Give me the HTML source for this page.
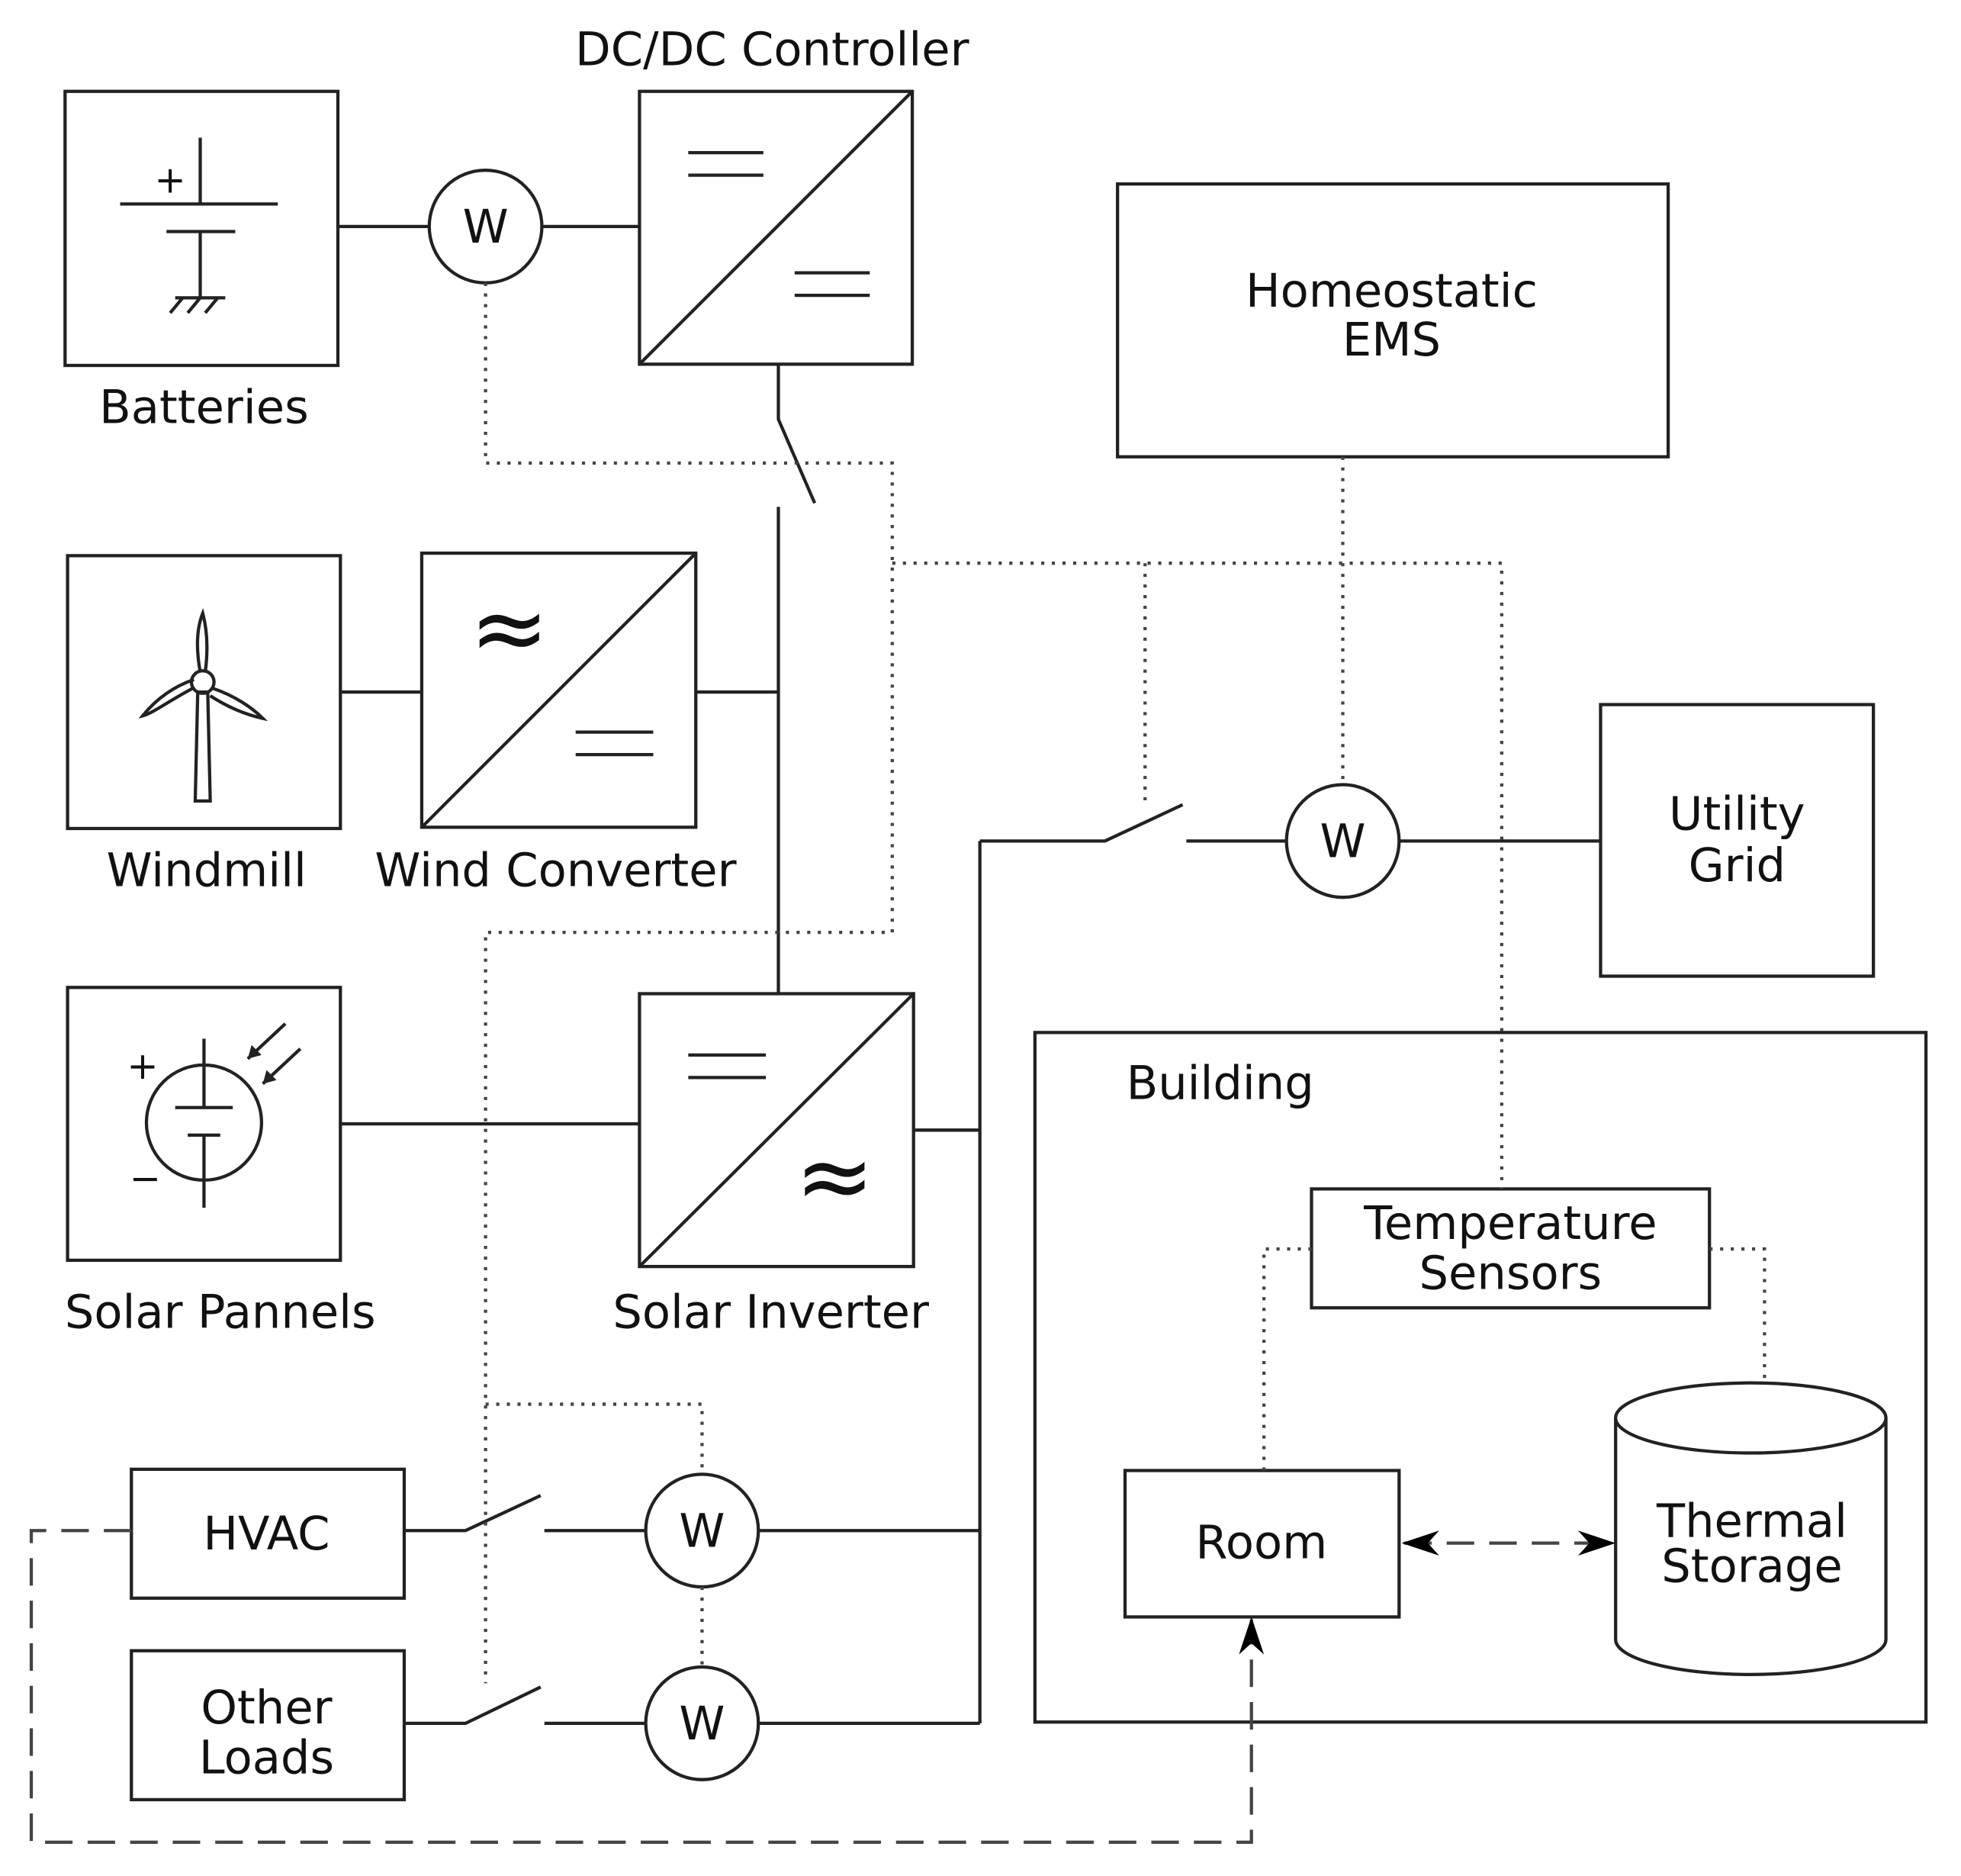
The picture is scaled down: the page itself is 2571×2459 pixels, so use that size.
<!DOCTYPE html>
<html><head><meta charset="utf-8"><style>html,body{margin:0;padding:0;background:#fff}svg{display:block}</style></head>
<body>
<svg width="2571" height="2459" viewBox="0 0 1567 1499" preserveAspectRatio="none" xmlns="http://www.w3.org/2000/svg" font-family="'DejaVu Sans','Liberation Sans',sans-serif" font-size="37" text-anchor="middle">
<defs>
<marker id="ah" viewBox="0 0 30 24" refX="28" refY="12" markerWidth="34" markerHeight="24" markerUnits="userSpaceOnUse" orient="auto-start-reverse"><path d="M0,2 L30,12 L0,22 L9,12 Z" fill="#000"/></marker>
</defs>
<g fill="none" stroke="#222" stroke-width="2.6">
<rect x="52" y="73" width="218" height="219"/>
<rect x="511" y="73" width="218" height="218"/>
<line x1="511" y1="291" x2="729" y2="73"/>
<rect x="893" y="147" width="440" height="218"/>
<rect x="54" y="444" width="218" height="218"/>
<rect x="337" y="442" width="219" height="219"/>
<line x1="337" y1="661" x2="556" y2="442"/>
<rect x="54" y="789" width="218" height="218"/>
<rect x="511" y="794" width="219" height="218"/>
<line x1="511" y1="1012" x2="730" y2="794"/>
<rect x="1279" y="563" width="218" height="217"/>
<rect x="827" y="825" width="712" height="551"/>
<rect x="1048" y="950" width="318" height="95"/>
<rect x="899" y="1175" width="219" height="117"/>
<rect x="105" y="1174" width="218" height="103"/>
<rect x="105" y="1319" width="218" height="119"/>
<path d="M550 122H610M550 140H610M635 218H695M635 236H695M460 585H522M460 603H522M550 843H612M550 861H612"/>
<path d="M160 110V163M96 163H222M133 185H188M160 185V238M140 238H180M146 238L136 250M160 238L150 250M174 238L164 250"/>
<circle cx="388" cy="181" r="45"/>
<circle cx="1073" cy="672" r="45"/>
<circle cx="561" cy="1223" r="45"/>
<circle cx="561" cy="1377" r="45"/>
<path d="M270 181H343M433 181H511M622 291V335L651 402M622 405V794M272 553H337M556 553H622M272 898H511M730 903H783M783 672V1377M783 672H883L945 643M948 672H1028M1118 672H1279"/>
<path d="M323 1223H372L432 1195M435 1223H516M606 1223H783M323 1377H372L432 1348M435 1377H516M606 1377H783"/>
<path d="M158 553L156 640H168L166 553Z"/>
<circle cx="162" cy="545" r="9"/>
<path d="M160 537C156 515 158 500 162 490C166 505 166 522 164 537"/>
<path d="M154 550C135 560 122 570 114 572C125 558 140 548 155 543"/>
<path d="M170 550C188 556 202 566 210 574C196 571 182 565 168 556"/>
<circle cx="163" cy="897" r="46"/>
<path d="M163 830V885M140 885H186M150 907H176M163 907V965"/>
<path d="M228 818L198 846M240 838L210 866"/>
<path d="M1291 1133V1310A108 28 0 0 0 1507 1310V1133"/>
<ellipse cx="1399" cy="1133" rx="108" ry="28"/>
</g>
<g fill="#222">
<path d="M198 846l3-11 8 8z M210 866l3-11 8 8z"/>
</g>
<g fill="none" stroke="#444" stroke-width="2.6" stroke-dasharray="2.5 6">
<path d="M388 226V370H713V745H388V1345M388 1122H561V1178M561 1268V1332M713 450H1200V950M915 450V645M1073 365V627M1048 998H1010V1175M1366 998H1410V1105"/>
</g>
<g fill="none" stroke="#444" stroke-width="2.6" stroke-dasharray="22 12">
<path d="M105 1223H25V1472H1000V1294" marker-end="url(#ah)"/>
<path d="M1122 1233H1289" marker-start="url(#ah)" marker-end="url(#ah)"/>
</g>
<g fill="#111">
<text x="617" y="52">DC/DC Controller</text>
<text x="163" y="338">Batteries</text>
<text x="165" y="708">Windmill</text>
<text x="444" y="708">Wind Converter</text>
<text x="176" y="1061">Solar Pannels</text>
<text x="616" y="1061">Solar Inverter</text>
<text x="1112" y="245">Homeostatic</text>
<text x="1112" y="284">EMS</text>
<text x="1388" y="663">Utility</text>
<text x="1388" y="704">Grid</text>
<text x="975" y="878">Building</text>
<text x="1207" y="990">Temperature</text>
<text x="1207" y="1030">Sensors</text>
<text x="1008" y="1245">Room</text>
<text x="1400" y="1228">Thermal</text>
<text x="1400" y="1264">Storage</text>
<text x="213" y="1238">HVAC</text>
<text x="213" y="1377">Other</text>
<text x="213" y="1417">Loads</text>
<text x="388" y="194">W</text>
<text x="1073" y="685">W</text>
<text x="561" y="1236">W</text>
<text x="561" y="1390">W</text>
<text x="136" y="154" font-size="30">+</text>
<text x="114" y="862" font-size="30">+</text>
<text x="116" y="952" font-size="30">−</text>
<text x="407" y="528" font-size="76">≈</text>
<text x="667" y="966" font-size="76">≈</text>
</g>
</svg>
</body></html>
